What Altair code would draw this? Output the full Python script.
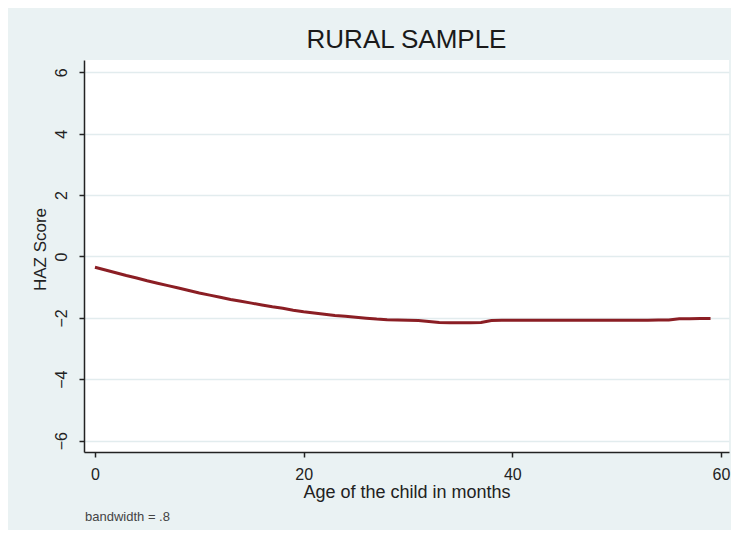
import altair as alt
import pandas as pd

AGE = list(range(0, 60))
HAZ = [-0.35, -0.44, -0.53, -0.62, -0.70, -0.79, -0.87, -0.95, -1.03, -1.11,
       -1.19, -1.26, -1.33, -1.40, -1.46, -1.52, -1.58, -1.64, -1.69, -1.75,
       -1.80, -1.84, -1.88, -1.92, -1.95, -1.98, -2.01, -2.04, -2.06, -2.07,
       -2.08, -2.09, -2.12, -2.15, -2.16, -2.16, -2.16, -2.15, -2.09, -2.08,
       -2.08, -2.08, -2.08, -2.08, -2.08, -2.08, -2.08, -2.08, -2.08, -2.08,
       -2.08, -2.08, -2.08, -2.08, -2.07, -2.07, -2.03, -2.03, -2.02, -2.02]
X_TICKS = [0, 20, 40, 60]
Y_TICKS = [-6, -4, -2, 0, 2, 4, 6]
TITLE = "RURAL SAMPLE"
X_TITLE = "Age of the child in months"
Y_TITLE = "HAZ Score"
NOTE = "bandwidth = .8"

FONT = "Liberation Sans"
df = pd.DataFrame({"age": AGE, "haz": HAZ})

line = alt.Chart(df).mark_line(color="#8B1E24", strokeWidth=3).encode(
    x=alt.X("age:Q",
            scale=alt.Scale(domain=[-1.05, 60.77], nice=False, zero=False),
            axis=alt.Axis(values=X_TICKS, grid=False, title=X_TITLE,
                          domainColor="#222222", domainWidth=1.5,
                          tickColor="#222222", tickWidth=1.5, tickSize=5,
                          labelFontSize=16, labelPadding=9, labelColor="#222222",
                          labelFont=FONT, titleFont=FONT, titleFontSize=18,
                          titleFontWeight="normal", titleColor="#222222",
                          titleY=45, titleBaseline="alphabetic")),
    y=alt.Y("haz:Q",
            scale=alt.Scale(domain=[-6.37, 6.4], nice=False, zero=False),
            axis=alt.Axis(values=Y_TICKS, grid=True, gridColor="#E2ECEE", gridWidth=1.5,
                          title=Y_TITLE,
                          domainColor="#222222", domainWidth=1.5,
                          tickColor="#222222", tickWidth=1.5, tickSize=5,
                          labelAngle=270, labelAlign="center", labelBaseline="bottom",
                          labelFontSize=16, labelPadding=10, labelColor="#222222",
                          labelFont=FONT, titleFont=FONT, titleFontSize=17,
                          titleFontWeight="normal", titleColor="#222222",
                          titleAngle=270, titleAlign="center", titleBaseline="alphabetic",
                          titleX=-39, titleY=189)),
)

note = alt.Chart(pd.DataFrame({"note": [NOTE]})).mark_text(
    align="left", baseline="alphabetic", fontSize=13, font=FONT, color="#444444"
).encode(x=alt.value(1), y=alt.value(461), text="note:N")

chart = alt.layer(line, note).properties(
    width=645, height=392,
    padding={"left": 76, "top": 52, "right": 2, "bottom": 78},
    autosize=alt.AutoSizeParams(type="none"),
    title=alt.TitleParams(TITLE, font=FONT, fontSize=26, fontWeight="normal",
                          color="#1a1a1a", anchor="middle", baseline="alphabetic",
                          offset=-14),
).configure(background="#EAF2F3").configure_view(fill="white", strokeWidth=0)

chart.save("out.html", embed_options={"renderer": "svg", "actions": False})
